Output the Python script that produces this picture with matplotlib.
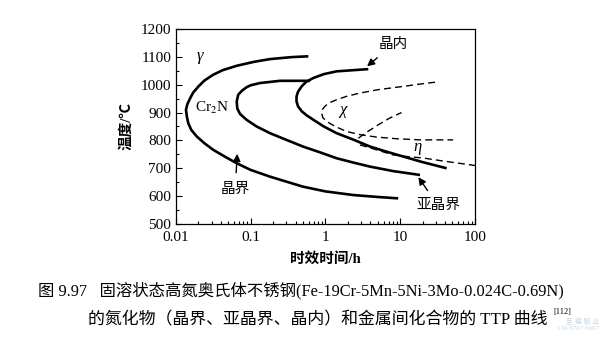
import matplotlib
matplotlib.use("Agg")
import matplotlib.pyplot as plt
from matplotlib.ticker import LogLocator, MultipleLocator, FixedLocator

# --- data (time in h, temperature in C) ---
gb_t = [0.59, 0.35, 0.181, 0.11, 0.065, 0.042, 0.0316, 0.024, 0.020, 0.0170, 0.0155, 0.0142, 0.0136,
        0.0140, 0.0146, 0.0160, 0.019, 0.024, 0.0316, 0.045, 0.065, 0.10, 0.181, 0.30, 0.50, 1.0, 2.35, 5.0, 9.4]
gb_T = [1102, 1099, 1092, 1082, 1068, 1052, 1036, 1015, 994, 972, 952, 930, 910,
        885, 862, 838, 814, 790, 766, 742, 718, 694, 670, 652, 634, 617, 604, 597, 592]

sgb_t = [0.62, 0.40, 0.246, 0.133, 0.100, 0.088, 0.076, 0.068, 0.065, 0.066, 0.072, 0.088, 0.12,
         0.181, 0.30, 0.50, 0.85, 1.41, 2.4, 3.94, 8.0, 18.4]
sgb_T = [1014, 1014, 1014, 1006, 998, 991, 978, 964, 940, 915, 895, 874, 850,
         826, 802, 778, 757, 736, 720, 706, 690, 676]

grain_t = [3.74, 2.3, 1.41, 0.95, 0.687, 0.55, 0.48, 0.43, 0.41, 0.41, 0.43, 0.48, 0.56, 0.69,
           0.95, 1.41, 2.4, 3.94, 6.5, 11.0, 20.0, 41.8]
grain_T = [1056, 1052, 1048, 1038, 1024, 1010, 994, 975, 958, 940, 922, 905, 890, 874,
           850, 826, 802, 778, 760, 742, 722, 700]

chi_t = [29.2, 18.0, 11.0, 5.0, 2.89, 1.9, 1.41, 1.1, 0.98, 0.90, 0.89, 0.92, 1.04, 1.35, 1.92,
         3.0, 4.84, 9.0, 18.4, 51.0]
chi_T = [1009, 1002, 994, 982, 970, 958, 946, 934, 922, 910, 898, 882, 868, 850, 832,
         820, 812, 806, 802, 802]

eta1_t = [2.75, 3.6, 5.0, 7.2, 10.4]
eta1_T = [808, 830, 855, 880, 900]

eta2_t = [2.89, 4.87, 8.0, 12.5, 20.1, 40.0, 100.0]
eta2_T = [784, 766, 748, 742, 737, 725, 710]

xticks = [0.01, 0.1, 1, 10, 100]
xticklabels = ["0.01", "0.1", "1", "10", "100"]
yticks = [500, 600, 700, 800, 900, 1000, 1100, 1200]

caption1 = "图 9.97   固溶状态高氮奥氏体不锈钢(Fe-19Cr-5Mn-5Ni-3Mo-0.024C-0.69N)"
caption2 = "的氮化物（晶界、亚晶界、晶内）和金属间化合物的 TTP 曲线"

fam = ["Liberation Serif", "Noto Sans CJK SC"]
plt.rcParams["font.family"] = fam
plt.rcParams["mathtext.fontset"] = "stix"

fig = plt.figure(figsize=(6, 3.4), dpi=100)
ax = fig.add_axes([0.2933, 0.3412, 0.4983, 0.5735])

solid = dict(color="black", lw=1.9, solid_capstyle="butt")
ax.plot(gb_t, gb_T, **solid)
ax.plot(sgb_t, sgb_T, **solid)
ax.plot(grain_t, grain_T, **solid)
ax.plot(chi_t, chi_T, color="black", lw=1.0, dashes=(5, 3))
ax.plot(eta1_t, eta1_T, color="black", lw=1.0, dashes=(5, 3))
ax.plot(eta2_t, eta2_T, color="black", lw=1.0, dashes=(5, 3))

ax.set_xscale("log")
ax.set_xlim(0.01, 100)
ax.set_ylim(500, 1200)
ax.xaxis.set_major_locator(FixedLocator(xticks))
ax.set_xticklabels(xticklabels)
ax.xaxis.set_minor_locator(LogLocator(base=10, subs=range(2, 10)))
ax.yaxis.set_major_locator(FixedLocator(yticks))
ax.yaxis.set_minor_locator(MultipleLocator(50))
ax.tick_params(which="both", direction="in", labelsize=11, width=0.8)
ax.tick_params(which="major", length=4)
ax.tick_params(which="minor", length=2.5)
ax.tick_params(axis="x", pad=5)
for s in ax.spines.values():
    s.set_linewidth(0.9)

ax.set_xlabel("时效时间/h", fontsize=10.5, fontweight="bold", labelpad=6)
ax.set_ylabel("温度/℃", fontsize=10.5, fontweight="bold", labelpad=5)

# labels in the plot
ax.text(0.021, 1102, "γ", fontsize=12, ha="center", va="center", style="italic")
ax.text(0.030, 916, "Cr$_2$N", fontsize=11, ha="center", va="center")
ax.text(1.7, 910, "χ", fontsize=12, ha="center", va="center", style="italic")
ax.text(17.1, 778, "η", fontsize=12, ha="center", va="center", style="italic")

arrow = dict(arrowstyle="-|>", color="black", lw=1.0, mutation_scale=11)
ax.annotate("晶内", xy=(3.6, 1066), xytext=(8.2, 1146), fontsize=10.5,
            ha="center", va="center", arrowprops=dict(arrow, shrinkA=5, shrinkB=0))
ax.annotate("晶界", xy=(0.066, 752), xytext=(0.062, 626), fontsize=10.5,
            ha="center", va="center", arrowprops=dict(arrow, shrinkA=5, shrinkB=0))
ax.annotate("亚晶界", xy=(17.5, 668), xytext=(32, 566), fontsize=10.5,
            ha="center", va="center", arrowprops=dict(arrow, shrinkA=5, shrinkB=0))

fig.text(38 / 600, 1 - 291 / 340, caption1, fontsize=11.8, ha="left", va="center")
fig.text(88 / 600, 1 - 320 / 340, caption2, fontsize=12.2, ha="left", va="center")
fig.text(553 / 600, 1 - 312 / 340, "[112]", fontsize=6, ha="left", va="center")

# faint watermark
fig.text(0.999, 1 - 324 / 340, "至 德 钢 业\n139 6707 6667", fontsize=5, color="#c9d6e6",
         ha="right", va="center", linespacing=1.3)

fig.savefig("out.png", dpi=100)
